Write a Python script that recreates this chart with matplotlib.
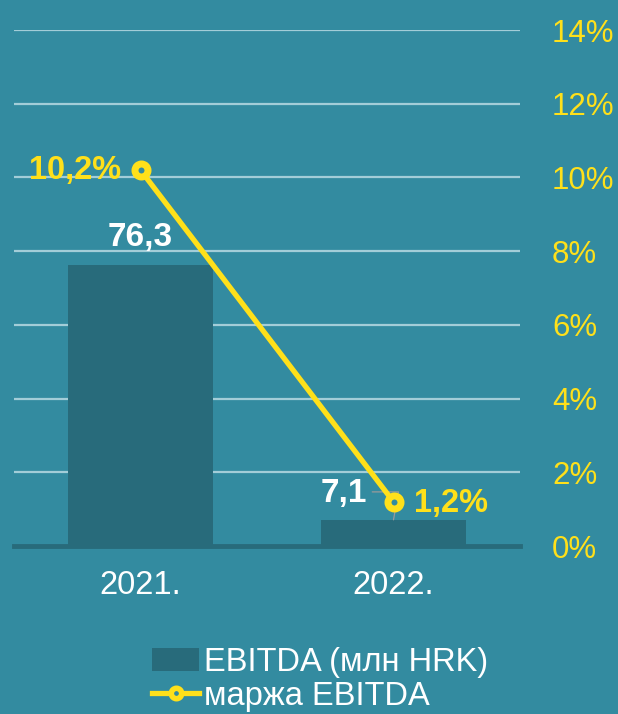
import matplotlib.pyplot as plt
from matplotlib.patches import Patch
from matplotlib.lines import Line2D

plt.rcParams['font.family'] = ['Liberation Sans', 'DejaVu Sans']

# data
years = ['2021.', '2022.']
ebitda = [76.3, 7.1]          # mln HRK
ebitda_lbl = ['76,3', '7,1']
margin = [10.2, 1.2]          # %
margin_lbl = ['10,2%', '1,2%']
pct_ticks = [0, 2, 4, 6, 8, 10, 12, 14]

bg = '#338BA0'
bar_c = '#286B7B'
yel = '#FFE01A'
grid_c = '#A3CDD8'

fig = plt.figure(figsize=(6.18, 7.14), dpi=100, facecolor=bg)
ax = fig.add_axes([14/618, 1 - 546/714, 506/618, 516/714])
ax.set_facecolor(bg)
x = list(range(len(years)))

# bars on left (hidden) axis, scaled so 0-140 matches 0-14%
ax.set_ylim(0, 140)
ax.set_xlim(-0.5, 1.5)
ax.set_yticks([p * 10 for p in pct_ticks])
ax.yaxis.grid(True, color=grid_c, lw=1.6, zorder=0)
ax.set_axisbelow(True)
ax.bar(x, ebitda, width=0.57, color=bar_c, zorder=2)
ax.axhline(0, color=bar_c, lw=3.5, zorder=3, clip_on=False)
for s in ax.spines.values():
    s.set_visible(False)
ax.set_xticks(x)
ax.set_xticklabels(years, color='white', fontsize=23.5)
ax.tick_params(axis='x', length=0, pad=17)

# bar value labels
ax.annotate(ebitda_lbl[0], (x[0], ebitda[0]), xytext=(0, 20), textcoords='offset points',
            ha='center', va='center', color='white', fontsize=24, fontweight='bold', zorder=5)
ax.annotate(ebitda_lbl[1], (x[1], ebitda[1]), xytext=(-36, 19), textcoords='offset points',
            ha='center', va='center', color='white', fontsize=24, fontweight='bold', zorder=5,
            arrowprops=dict(arrowstyle='-', color='#9a9a9a', lw=0.9, shrinkA=2, shrinkB=0,
                            relpos=(1.0, 0.55),
                            connectionstyle='angle,angleA=0,angleB=80,rad=0'))

# margin line on right axis
ax2 = ax.twinx()
ax.tick_params(axis='y', left=False, right=False, labelleft=False, labelright=False)
ax2.set_ylim(0, 14)
ax2.set_yticks(pct_ticks)
ax2.set_yticklabels([f'{p}%' for p in pct_ticks], color=yel, fontsize=22.5)
ax2.tick_params(axis='y', length=0, pad=23)
for s in ax2.spines.values():
    s.set_visible(False)
ax2.plot(x, margin, color=yel, lw=3.8, marker='o', markersize=9.4,
         markerfacecolor=bg, markeredgecolor=yel, markeredgewidth=5, zorder=4)
ax2.annotate(margin_lbl[0], (x[0], margin[0]), xytext=(-14, 0), textcoords='offset points',
             ha='right', va='center', color=yel, fontsize=23.5, fontweight='bold')
ax2.annotate(margin_lbl[1], (x[1], margin[1]), xytext=(15, -1), textcoords='offset points',
             ha='left', va='center', color=yel, fontsize=23.5, fontweight='bold')

# legend
handles = [Patch(facecolor=bar_c, edgecolor='none'),
           Line2D([], [], color=yel, lw=3.8, marker='o', markersize=7.5,
                  markerfacecolor=bg, markeredgecolor=yel, markeredgewidth=4)]
leg = fig.legend(handles, ['EBITDA (млн HRK)', 'маржа EBITDA'],
                 loc='upper left', bbox_to_anchor=(139/618, 1 - 634/714),
                 frameon=False, fontsize=23.5, labelcolor='white',
                 handlelength=1.45, handletextpad=0.15, labelspacing=0.08,
                 borderaxespad=0)

fig.savefig('out.png', dpi=100, facecolor=bg)
